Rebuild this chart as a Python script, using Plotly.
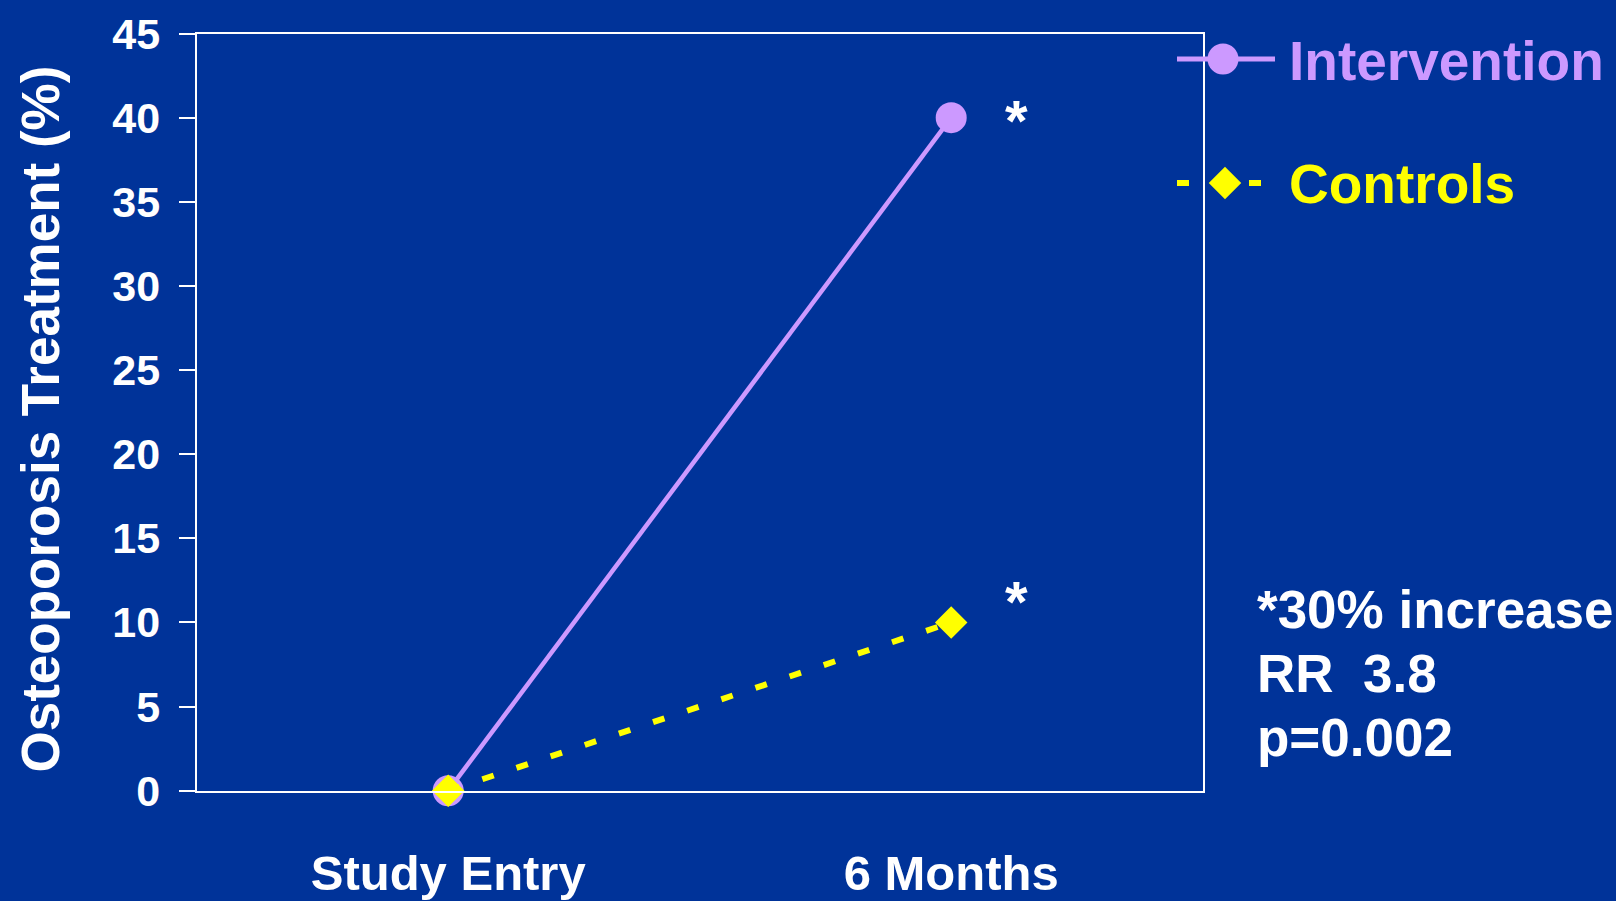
import plotly.graph_objects as go

# Data
timepoints = ["Study Entry", "6 Months"]
intervention = [0, 40]
controls = [0, 10]
y_ticks = [0, 5, 10, 15, 20, 25, 30, 35, 40, 45]
series_names = ["Intervention", "Controls"]
stats_lines = ["*30% increase", "RR  3.8", "p=0.002"]

W, H = 1616, 901
BG = "#003399"
PURPLE = "#CC99FF"
YELLOW = "#FFFF00"
WHITE = "#FFFFFF"
FONT = "Liberation Sans, Arial, sans-serif"

# plot frame in pixels
left, right, top, bottom = 196.7, 1202.7, 33.5, 790.7

fig = go.Figure()

fig.add_trace(go.Scatter(
    x=timepoints, y=intervention, name=series_names[0], mode="lines+markers",
    line=dict(color=PURPLE, width=4.5),
    marker=dict(symbol="circle", size=31, color=PURPLE),
    cliponaxis=False, showlegend=False,
))
fig.add_trace(go.Scatter(
    x=timepoints, y=controls, name=series_names[1], mode="lines+markers",
    line=dict(color=YELLOW, width=6, dash="12px,24px"),
    marker=dict(symbol="diamond", size=25, color=YELLOW),
    cliponaxis=False, showlegend=False,
))

# Legend drawn on a full-figure pixel overlay
fig.add_trace(go.Scatter(
    x=[1177, 1223, 1275], y=[59, 59, 59], mode="lines", xaxis="x2", yaxis="y2",
    line=dict(color=PURPLE, width=5), showlegend=False, hoverinfo="skip",
))
fig.add_trace(go.Scatter(
    x=[1223], y=[59], mode="markers", xaxis="x2", yaxis="y2",
    marker=dict(symbol="circle", size=31, color=PURPLE), showlegend=False, hoverinfo="skip",
))
fig.add_trace(go.Scatter(
    x=[1177, 1189], y=[183, 183], mode="lines", xaxis="x2", yaxis="y2",
    line=dict(color=YELLOW, width=6), showlegend=False, hoverinfo="skip",
))
fig.add_trace(go.Scatter(
    x=[1249, 1261], y=[183, 183], mode="lines", xaxis="x2", yaxis="y2",
    line=dict(color=YELLOW, width=6), showlegend=False, hoverinfo="skip",
))
fig.add_trace(go.Scatter(
    x=[1225], y=[183], mode="markers", xaxis="x2", yaxis="y2",
    marker=dict(symbol="diamond", size=25, color=YELLOW), showlegend=False, hoverinfo="skip",
))

annotations = [
    dict(x=1287, y=61, xref="x2", yref="y2", text=series_names[0], showarrow=False,
         xanchor="left", yanchor="middle",
         font=dict(family=FONT, size=55, color=PURPLE, weight="bold")),
    dict(x=1287, y=184, xref="x2", yref="y2", text=series_names[1], showarrow=False,
         xanchor="left", yanchor="middle",
         font=dict(family=FONT, size=55, color=YELLOW, weight="bold")),
    # significance markers next to the 6-month points
    dict(x=timepoints[1], y=intervention[1], xref="x", yref="y", text="*", showarrow=False,
         xshift=65, yshift=-3, font=dict(family=FONT, size=58, color=WHITE, weight="bold")),
    dict(x=timepoints[1], y=controls[1], xref="x", yref="y", text="*", showarrow=False,
         xshift=65, yshift=21, font=dict(family=FONT, size=58, color=WHITE, weight="bold")),
]
for line, yc in zip(stats_lines, [609, 673, 737]):
    annotations.append(dict(
        x=1255, y=yc, xref="x2", yref="y2", text=line, showarrow=False,
        xanchor="left", yanchor="middle",
        font=dict(family=FONT, size=53, color=WHITE, weight="bold"),
    ))
annotations.append(dict(
    x=40, y=(72 + 767) / 2, xref="x2", yref="y2", text="Osteoporosis Treatment (%)",
    showarrow=False, textangle=-90, xanchor="center", yanchor="middle",
    font=dict(family=FONT, size=53, color=WHITE, weight="bold"),
))

fig.update_layout(
    width=W, height=H,
    margin=dict(l=0, r=0, t=0, b=0, autoexpand=False),
    paper_bgcolor=BG, plot_bgcolor="rgba(0,0,0,0)",
    showlegend=False,
    xaxis=dict(
        type="category", range=[-0.5, 1.5], automargin=False,
        domain=[left / W, right / W],
        showline=True, linecolor=WHITE, linewidth=2, mirror=True,
        showgrid=False, zeroline=False, ticks="",
        tickfont=dict(family=FONT, size=49, color=WHITE, weight="bold"),
        ticklabelstandoff=38,
    ),
    yaxis=dict(
        range=[0, 45], tickvals=y_ticks, automargin=False,
        domain=[(H - bottom) / H, (H - top) / H],
        showline=True, linecolor=WHITE, linewidth=2, mirror=True,
        showgrid=False, zeroline=False,
        ticks="outside", ticklen=16, tickwidth=2, tickcolor=WHITE,
        tickfont=dict(family=FONT, size=43, color=WHITE, weight="bold"),
        ticklabelstandoff=10,
    ),
    xaxis2=dict(domain=[0, 1], range=[0, W], visible=False, anchor="y2",
                fixedrange=True, automargin=False),
    yaxis2=dict(domain=[0, 1], range=[H, 0], visible=False, anchor="x2",
                fixedrange=True, automargin=False),
    annotations=annotations,
)

fig.write_html("out.html")
